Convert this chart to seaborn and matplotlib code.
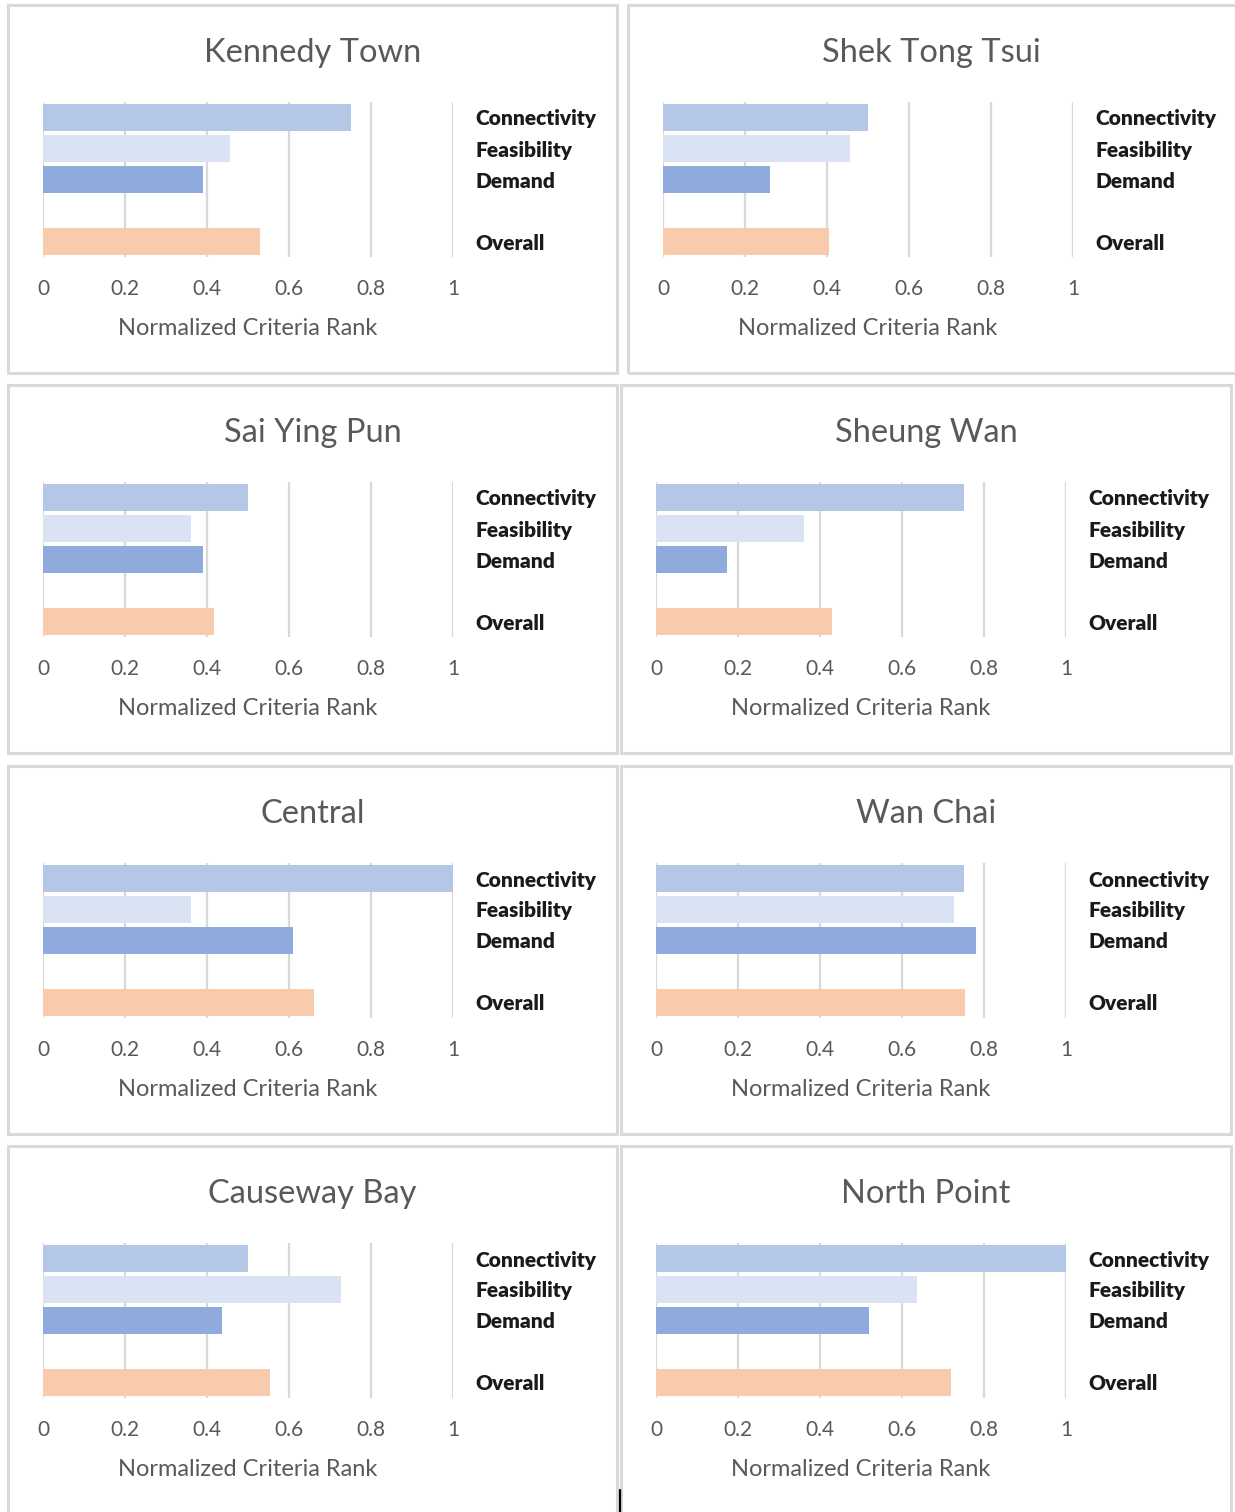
"""
Normalized criteria rank per district, small multiples
"""

import pandas as pd
import matplotlib.pyplot as plt
from matplotlib.patches import Rectangle
from matplotlib.lines import Line2D
import seaborn as sns

districts = ["Kennedy Town", "Shek Tong Tsui", "Sai Ying Pun", "Sheung Wan",
             "Central", "Wan Chai", "Causeway Bay", "North Point"]
criteria = ["Connectivity", "Feasibility", "Demand", "Overall"]

connectivity = [0.75, 0.50, 0.50, 0.75, 1.00, 0.75, 0.50, 1.00]
feasibility = [0.455, 0.455, 0.36, 0.36, 0.36, 0.727, 0.727, 0.637]
demand = [0.39, 0.26, 0.39, 0.173, 0.61, 0.78, 0.437, 0.52]
overall = [0.53, 0.405, 0.417, 0.43, 0.66, 0.754, 0.554, 0.72]

xticks = [0, 0.2, 0.4, 0.6, 0.8, 1]
xtick_labels = ["0", "0.2", "0.4", "0.6", "0.8", "1"]

colors = {"Connectivity": "#B4C7E7", "Feasibility": "#DAE3F3",
          "Demand": "#8FAADC", "Overall": "#F8CBAD"}

sns.set_style("white")
plt.rcParams["font.family"] = ["Lato", "DejaVu Sans"]

W, H = 1235, 1512
fig = plt.figure(figsize=(W / 100, H / 100), dpi=100)


def fx(px):
    return px / W


def fy(py):
    return 1 - py / H


# panel geometry in pixels (box left, box right, axis x0)
row_off = [0, 380, 761, 1141]
box_tops = [5, 385, 766, 1146]
box_bottoms = [373, 753, 1134, 1520]
cols = [(8, 617, 43), (621, 1231, 656)]

# order with a blank slot between Demand and Overall
order = ["Connectivity", "Feasibility", "Demand", " ", "Overall"]

for i, name in enumerate(districts):
    r, c = divmod(i, 2)
    bl, br, ax0 = cols[c]
    title_x = (bl + br) / 2
    if r == 0 and c == 1:
        bl, br, ax0 = 628, 1240, 663
        title_x = 931.5
    off = row_off[r]

    # panel frame
    fig.add_artist(Rectangle((fx(bl), fy(box_bottoms[r])), fx(br - bl),
                             (box_bottoms[r] - box_tops[r]) / H,
                             transform=fig.transFigure, fill=False,
                             edgecolor="#D9D9D9", lw=2.2))

    ax = fig.add_axes([fx(ax0), fy(257 + off), 410 / W, 155 / H])
    df = pd.DataFrame({
        "criterion": criteria,
        "value": [connectivity[i], feasibility[i], demand[i], overall[i]],
    })
    sns.barplot(data=df, x="value", y="criterion", hue="criterion",
                order=order, palette=colors, saturation=1, width=0.88,
                linewidth=0, legend=False, orient="h", ax=ax)

    ax.set_xlim(0, 1)
    ax.set_xticks(xticks)
    ax.set_xticklabels(xtick_labels)
    ax.grid(axis="x", color="#D9D9D9", lw=1.6)
    ax.set_axisbelow(True)
    for s in ax.spines.values():
        s.set_visible(False)
    ax.yaxis.tick_right()
    ax.set_ylabel("")
    ax.tick_params(axis="x", length=0, pad=15.5, labelsize=15, labelcolor="#595959")
    ax.tick_params(axis="y", length=0, pad=16, labelsize=15, labelcolor="#1A1A1A")
    for t in ax.get_yticklabels():
        t.set_fontweight("heavy")
    ax.set_xlabel("Normalized Criteria Rank", fontsize=17, color="#595959",
                  labelpad=14)

    fig.text(fx(title_x), fy(53 + off), name, ha="center", va="center",
             fontsize=23.5, color="#595959")

# small stray mark at bottom centre
fig.add_artist(Line2D([fx(620), fx(620)], [fy(1490), fy(1512)],
                      transform=fig.transFigure, color="black", lw=1.6))

fig.savefig("out.png", dpi=100, facecolor="white")
